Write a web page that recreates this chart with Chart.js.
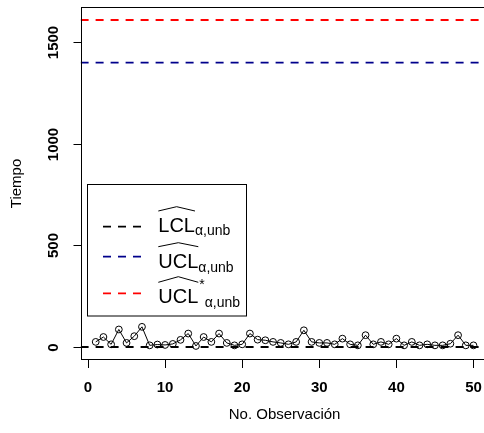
<!DOCTYPE html>
<html>
<head>
<meta charset="utf-8">
<script src="https://cdn.jsdelivr.net/npm/chart.js@4/dist/chart.umd.min.js"></script>
<style>
  html, body { margin: 0; padding: 0; overflow: hidden; background: #fff; width: 484px; height: 433px; }
  #wrap { position: absolute; left: 0; top: 0; width: 500px; height: 433px; }
</style>
</head>
<body>
<div id="wrap"><canvas id="c" width="500" height="433"></canvas></div>
<script>
// ---- data ----
const obs = [1,2,3,4,5,6,7,8,9,10,11,12,13,14,15,16,17,18,19,20,21,22,23,24,25,
             26,27,28,29,30,31,32,33,34,35,36,37,38,39,40,41,42,43,44,45,46,47,48,49,50];
const tiempo = [25,49,13,86,20,53,99,8,12,10,15,35,66,5,49,25,66,20,8,13,
                66,36,33,25,20,13,25,82,25,20,20,13,41,13,8,58,13,25,13,41,
                8,25,8,13,8,8,16,58,8,8];
const lcl = [0];
const ucl = [1398];
const uclStar = [1607];
const xTicks = [0,10,20,30,40,50];
const yTicks = [0,500,1000,1500];
const xLim = [-0.96, 51.96];
const yLim = [-64, 1671];

const FONT = "'Liberation Sans', Arial, Helvetica, sans-serif";

function hline(v) { return [{x: xLim[0], y: v}, {x: xLim[1], y: v}]; }

const rStyle = {
  id: 'rStyle',
  afterDraw(chart) {
    const ctx = chart.ctx;
    const a = chart.chartArea;
    const ys = chart.scales.y;
    ctx.save();
    // box
    ctx.strokeStyle = '#000';
    ctx.lineWidth = 1;
    const L = Math.round(a.left) + 0.5, T = Math.round(a.top) + 0.5;
    const R = Math.round(a.right) + 0.5, B = Math.round(a.bottom) - 0.5;
    ctx.strokeRect(L, T, R - L, B - T);
    // y ticks + labels
    ctx.fillStyle = '#000';
    ctx.font = 'bold 15px ' + FONT;
    ys.ticks.forEach(t => {
      const y = Math.round(ys.getPixelForValue(t.value)) + 0.5;
      ctx.beginPath();
      ctx.moveTo(L - 8, y); ctx.lineTo(L, y); ctx.stroke();
      ctx.save();
      ctx.translate(58.3, y);
      ctx.rotate(-Math.PI / 2);
      ctx.textAlign = 'center';
      ctx.textBaseline = 'alphabetic';
      ctx.fillText(String(t.value), 0, 0);
      ctx.restore();
    });
    // legend
    const bx = 87.5, by = 184.5, bw = 159, bh = 131.5;
    ctx.fillStyle = '#fff';
    ctx.fillRect(bx, by, bw, bh);
    ctx.strokeStyle = '#000';
    ctx.strokeRect(bx, by, bw, bh);
    const rows = [
      {color: chart.data.datasets[1].borderColor, y: 226.7, main: 'LCL', star: false, base: 231.5, hat: [211, 206.7]},
      {color: chart.data.datasets[2].borderColor, y: 256.7, main: 'UCL', star: false, base: 268.3, hat: [246.7, 242.7]},
      {color: chart.data.datasets[3].borderColor, y: 293.3, main: 'UCL', star: true,  base: 303.3, hat: [282.3, 276.7]}
    ];
    rows.forEach(r => {
      ctx.save();
      ctx.strokeStyle = r.color;
      ctx.lineWidth = 1.8;
      ctx.setLineDash([8, 7]);
      ctx.beginPath();
      ctx.moveTo(103, r.y); ctx.lineTo(142, r.y); ctx.stroke();
      ctx.restore();
      const tx = 158.3;
      ctx.fillStyle = '#000';
      ctx.textAlign = 'left';
      ctx.textBaseline = 'alphabetic';
      ctx.font = '20px ' + FONT;
      ctx.fillText(r.main, tx, r.base);
      const mw = ctx.measureText(r.main).width;
      // hat
      ctx.strokeStyle = '#000';
      ctx.lineWidth = 1;
      ctx.beginPath();
      const hx1 = tx + mw;
      ctx.moveTo(tx, r.hat[0]);
      ctx.lineTo((tx + hx1) / 2, r.hat[1]);
      ctx.lineTo(hx1, r.hat[0]);
      ctx.stroke();
      ctx.font = '14px ' + FONT;
      let sx = tx + mw;
      if (r.star) {
        ctx.fillText('*', sx + 1, r.base - 14);
        sx += ctx.measureText('*').width + 1;
      }
      ctx.fillText('\u03B1,unb', sx, r.base + 3.3);
    });
    ctx.restore();
  }
};

new Chart(document.getElementById('c'), {
  type: 'line',
  data: {
    datasets: [
      {
        label: 'Tiempo',
        data: obs.map((o, i) => ({x: o, y: tiempo[i]})),
        borderColor: '#000', borderWidth: 1, tension: 0, fill: false,
        pointRadius: 3.4, pointBorderWidth: 1, pointBorderColor: '#000',
        pointBackgroundColor: 'rgba(0,0,0,0)'
      },
      { label: 'LCL', data: hline(lcl[0]), borderColor: '#000000', borderWidth: 1.8, borderDash: [8, 7], pointRadius: 0, fill: false },
      { label: 'UCL', data: hline(ucl[0]), borderColor: '#00008B', borderWidth: 1.8, borderDash: [8, 7], pointRadius: 0, fill: false },
      { label: 'UCL*', data: hline(uclStar[0]), borderColor: '#FF0000', borderWidth: 1.8, borderDash: [8, 7], pointRadius: 0, fill: false }
    ]
  },
  options: {
    responsive: false,
    animation: false,
    devicePixelRatio: 1,
    layout: { padding: { top: 7, right: 11.4, left: 0, bottom: 0 } },
    plugins: { legend: { display: false }, tooltip: { enabled: false } },
    scales: {
      x: {
        type: 'linear', min: xLim[0], max: xLim[1],
        afterBuildTicks: s => { s.ticks = xTicks.map(v => ({value: v})); },
        afterFit: s => { s.height = 73; },
        grid: { display: true, drawOnChartArea: false, drawTicks: true, tickLength: 8, color: '#000', lineWidth: 1 },
        border: { display: false },
        ticks: { color: '#000', font: { family: FONT, size: 15, weight: 'bold' }, padding: 11, maxRotation: 0, autoSkip: false },
        title: { display: true, text: 'No. Observación', color: '#000', font: { family: FONT, size: 15 }, padding: { top: 9, bottom: 9 } }
      },
      y: {
        type: 'linear', min: yLim[0], max: yLim[1],
        afterBuildTicks: s => { s.ticks = yTicks.map(v => ({value: v})); },
        afterFit: s => { s.width = 80.6; },
        grid: { display: false },
        border: { display: false },
        ticks: { display: false },
        title: { display: true, text: 'Tiempo', color: '#000', font: { family: FONT, size: 15 }, padding: { top: 8, bottom: 0 } }
      }
    }
  },
  plugins: [rStyle]
});
</script>
</body>
</html>
